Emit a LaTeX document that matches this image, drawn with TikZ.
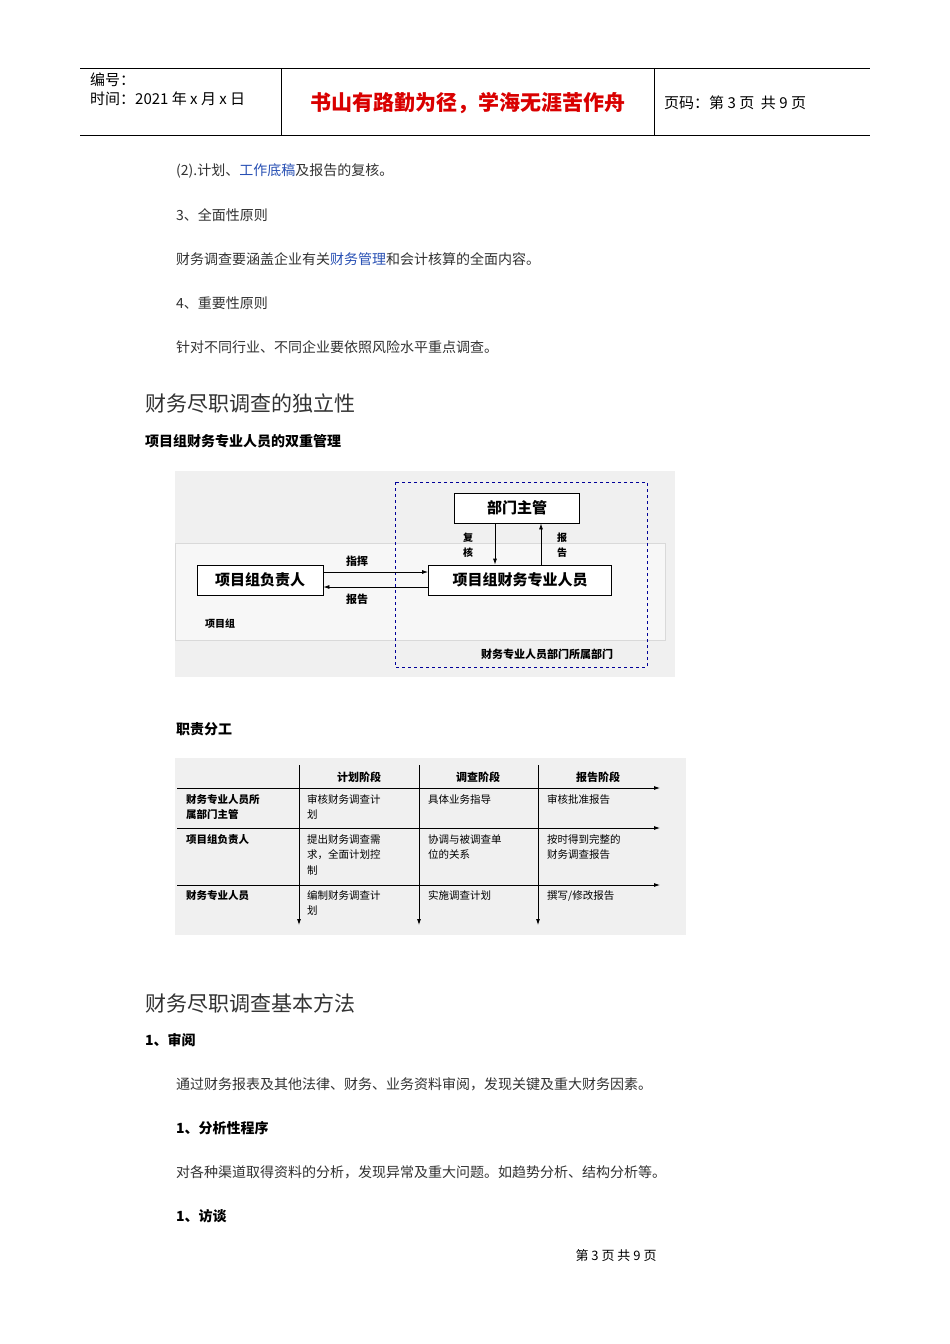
\documentclass[tikz,border=0pt]{standalone}
\usepackage{fontspec}
\setmainfont{Noto Sans CJK SC}
\usetikzlibrary{arrows.meta}
\definecolor{link}{RGB}{40,80,180}
\definecolor{txt}{RGB}{50,50,50}
\tikzset{
  body/.style={anchor=west,inner sep=0pt,text=txt,font=\fontsize{14}{16}\selectfont},
  bbody/.style={anchor=west,inner sep=0pt,text=black,font=\fontsize{14}{16}\selectfont\bfseries},
  head/.style={anchor=west,inner sep=0pt,text=txt,font=\fontsize{21}{24}\selectfont},
  dg/.style={inner sep=0pt,font=\fontsize{11}{14}\selectfont\bfseries},
  cell/.style={anchor=north west,inner sep=0pt,align=left,font=\fontsize{10.5}{15.5}\selectfont},
  rcell/.style={cell,font=\fontsize{10.5}{15.5}\selectfont\bfseries},
  box/.style={draw,thick,fill=white,minimum height=30pt,inner sep=0pt,font=\fontsize{15}{17}\selectfont\bfseries},
  arr/.style={-{Latex[length=6pt,width=4pt]},thick}
}
\begin{document}
\begin{tikzpicture}[x=1pt,y=-1pt]
\useasboundingbox[fill=white] (0,0) rectangle (950,1344);
% header
\draw (80,68) -- (870,68) (80,135) -- (870,135) (281,68) -- (281,135) (654,68) -- (654,135);
\node[anchor=west,inner sep=0pt,font=\fontsize{15}{17}\selectfont] (h1) at (90,80) {编号：};
\node[anchor=west,inner sep=0pt,font=\fontsize{15}{17}\selectfont] (h2) at (90,99) {时间：2021 年 x 月 x 日};
\node[inner sep=0pt,text=red!85!black,font=\fontsize{21}{23}\selectfont\bfseries] (h3) at (468,103) {书山有路勤为径，学海无涯苦作舟};
\node[anchor=west,inner sep=0pt,font=\fontsize{15}{17}\selectfont] (h4) at (664,103) {页码：第 3 页\ \ 共 9 页};
% body
\node[body] (t1) at (176,171) {(2).计划、\textcolor{link}{工作底稿}及报告的复核。};
\node[body] (t2) at (176,215) {3、全面性原则};
\node[body] (t3) at (176,259) {财务调查要涵盖企业有关\textcolor{link}{财务管理}和会计核算的全面内容。};
\node[body] (t4) at (176,303) {4、重要性原则};
\node[body] (t5) at (176,347) {针对不同行业、不同企业要依照风险水平重点调查。};
\node[head] (t6) at (145,404) {财务尽职调查的独立性};
\node[bbody] (t7) at (145,441) {项目组财务专业人员的双重管理};
% diagram 1
\fill[black!6] (175,471) rectangle (675,677);
\draw[black!15,fill=black!3] (175,543) rectangle (665,640);
\draw[dashed,thick,blue!60!black] (395,482) rectangle (647,667);
\node[box,minimum width=125pt] (bm) at (517,508) {部门主管};
\node[box,minimum width=183pt] (cw) at (520,580) {项目组财务专业人员};
\node[box,minimum width=126pt] (fz) at (260,580) {项目组负责人};
\draw[arr] ([yshift=8pt]fz.east) -- ([yshift=8pt]cw.west);
\draw[arr] ([yshift=-7pt]cw.west) -- ([yshift=-7pt]fz.east);
\draw[arr] (bm.south -| 495,0) -- (cw.north -| 495,0);
\draw[arr] (cw.north -| 541,0) -- (bm.south -| 541,0);
\node[dg] (l1) at (357,561) {指挥};
\node[dg] (l2) at (357,599) {报告};
\node[dg,align=center,font=\fontsize{10}{15}\selectfont\bfseries] (l3) at (468,545) {复\\核};
\node[dg,align=center,font=\fontsize{10}{15}\selectfont\bfseries] (l4) at (562,545) {报\\告};
\node[dg,font=\fontsize{10}{12}\selectfont\bfseries] (l5) at (220,624) {项目组};
\node[dg] (l6) at (547,654) {财务专业人员部门所属部门};
\node[bbody] (t8) at (176,729) {职责分工};
% diagram 2
\fill[black!6] (175,758) rectangle (686,935);
\foreach \y/\n in {788/ha,828/hb,885/hc}{\coordinate (\n s) at (177,\y); \coordinate (\n e) at (660,\y); \draw[arr] (\n s) -- (\n e);}
\foreach \x/\n in {299/va,419/vb,538/vc}{\coordinate (\n s) at (\x,765); \coordinate (\n e) at (\x,925); \draw[arr] (\n s) -- (\n e);}
\node[dg] (c1) at (359,777) {计划阶段};
\node[dg] (c2) at (478,777) {调查阶段};
\node[dg] (c3) at (598,777) {报告阶段};
\node[rcell] (r1) at (186,794) {财务专业人员所\\属部门主管};
\node[rcell] (r2) at (186,834) {项目组负责人};
\node[rcell] (r3) at (186,890) {财务专业人员};
\node[cell] (a1) at (307,794) {审核财务调查计\\划};
\node[cell] (a2) at (428,794) {具体业务指导};
\node[cell] (a3) at (547,794) {审核批准报告};
\node[cell] (b1) at (307,834) {提出财务调查需\\求，全面计划控\\制};
\node[cell] (b2) at (428,834) {协调与被调查单\\位的关系};
\node[cell] (b3) at (547,834) {按时得到完整的\\财务调查报告};
\node[cell] (d1) at (307,890) {编制财务调查计\\划};
\node[cell] (d2) at (428,890) {实施调查计划};
\node[cell] (d3) at (547,890) {撰写/修改报告};
% methods
\node[head] (t9) at (145,1003) {财务尽职调查基本方法};
\node[bbody] (t10) at (145,1040) {1、审阅};
\node[body] (t11) at (176,1084) {通过财务报表及其他法律、财务、业务资料审阅，发现关键及重大财务因素。};
\node[bbody] (t12) at (176,1128) {1、分析性程序};
\node[body] (t13) at (176,1172) {对各种渠道取得资料的分析，发现异常及重大问题。如趋势分析、结构分析等。};
\node[bbody] (t14) at (176,1216) {1、访谈};
\node[inner sep=0pt,font=\fontsize{13}{15}\selectfont] (ft) at (616,1256) {第\ 3\ 页\ 共\ 9\ 页};
\end{tikzpicture}
\end{document}
